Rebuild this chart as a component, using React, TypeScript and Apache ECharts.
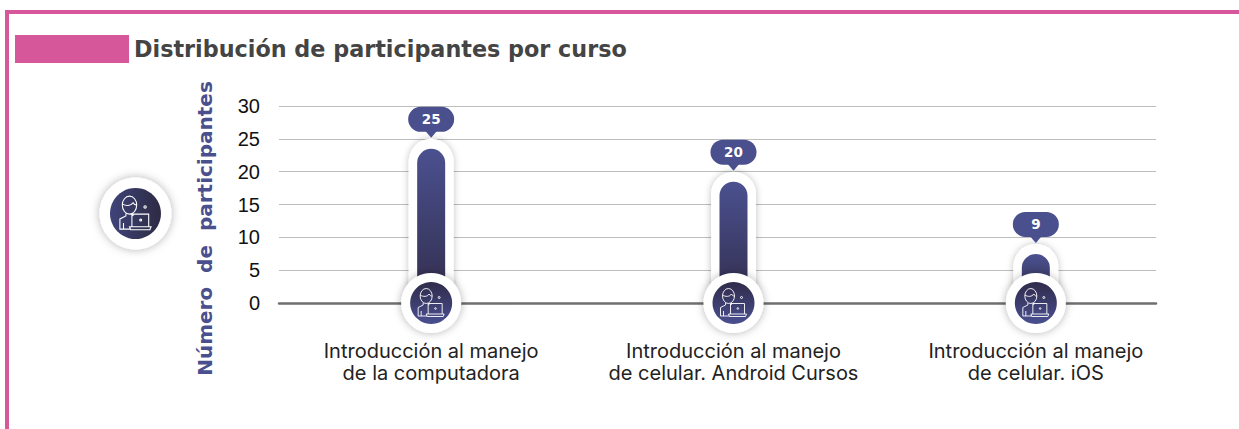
import React, { useEffect, useRef } from "react";
import * as echarts from "echarts";

const categories = [
  "Introducción al manejo\nde la computadora",
  "Introducción al manejo\nde celular. Android Cursos",
  "Introducción al manejo\nde celular. iOS",
];
const participants = [25, 20, 9];
const yTicks = { min: 0, max: 30, interval: 5 };
const titleText = "Distribución de participantes por curso";
const yAxisTitle = "Número  de  participantes";

const PINK = "#d6589b";
const INDIGO = "#4a4f8e";
const FONT = "Inter, 'Noto Sans', sans-serif";
const HEAVY = "'DejaVu Sans', sans-serif";

const ICON =
  "M-11,-7 a6,7.5 0 1,1 12,0 a6,7.5 0 1,1 -12,0 Z " +
  "M-11,-8 C-8,-6 -4,-6 -2,-9 C-1,-7 0,-7 1,-7 " +
  "M-8,0 L-8,2 L-13,4.5 L-13,13 L-4,13 " +
  "M-2,0 L-2,1.5 L-3,2 " +
  "M-10,13 L-10,8 " +
  "M-3,11 L-3,0.5 L11,0.5 L11,11 " +
  "M-5,11 L13,11 L12,13.5 L-4,13.5 Z " +
  "M3.5,5.5 a0.8,0.8 0 1,1 1.6,0 a0.8,0.8 0 1,1 -1.6,0 Z " +
  "M7,-5.5 a1,1 0 1,1 2,0 a1,1 0 1,1 -2,0 Z";

echarts.graphic.registerShape("personIcon", echarts.graphic.extendPath(ICON, {}));

const barGradient = () =>
  new echarts.graphic.LinearGradient(0, 0, 0, 1, [
    { offset: 0, color: "#4b5190" },
    { offset: 1, color: "#322d4c" },
  ]);
const badgeGradient = () =>
  new echarts.graphic.LinearGradient(0, 0, 0, 1, [
    { offset: 0, color: "#2f2b4a" },
    { offset: 1, color: "#4a4f90" },
  ]);

function renderCourse(_params: any, api: any) {
  const [cx, top] = api.coord([api.value(0), api.value(1)]);
  const [, base] = api.coord([api.value(0), 0]);
  const haloW = 45;
  const barW = 28;
  return {
    type: "group",
    children: [
      {
        type: "rect",
        shape: { x: cx - haloW / 2, y: top, width: haloW, height: base - top, r: [22.5, 22.5, 0, 0] },
        style: { fill: "#fff", shadowBlur: 7, shadowColor: "rgba(0,0,0,0.25)" },
      },
      {
        type: "rect",
        shape: { x: cx - barW / 2, y: top + 10, width: barW, height: base - top - 10, r: [14, 14, 0, 0] },
        style: { fill: barGradient() },
      },
      {
        type: "rect",
        shape: { x: cx - 23, y: top - 32, width: 46, height: 25, r: 12.5 },
        style: { fill: INDIGO },
      },
      {
        type: "polygon",
        shape: { points: [[cx - 6, top - 8], [cx + 6, top - 8], [cx, top - 1]] },
        style: { fill: INDIGO },
      },
      {
        type: "text",
        x: cx,
        y: top - 19.5,
        style: {
          text: String(api.value(1)),
          fill: "#fff",
          font: `700 13.5px ${HEAVY}`,
          align: "center",
          verticalAlign: "middle",
        },
      },
      {
        type: "circle",
        shape: { cx, cy: base, r: 30 },
        style: { fill: "#fff", shadowBlur: 8, shadowColor: "rgba(0,0,0,0.3)" },
      },
      { type: "circle", shape: { cx, cy: base, r: 21 }, style: { fill: badgeGradient() } },
      {
        type: "personIcon",
        x: cx,
        y: base,
        style: { fill: "none", stroke: "#fff", lineWidth: 0.9 },
      },
    ],
  };
}

export default function App() {
  const ref = useRef<HTMLDivElement>(null);
  useEffect(() => {
    document.body.style.margin = "0";
    const chart = echarts.init(ref.current!, undefined, { renderer: "svg" });
    const grids = { top: 106, height: 197 };
    chart.setOption({
      animation: false,
      backgroundColor: "#fff",
      textStyle: { fontFamily: FONT },
      grid: [
        { ...grids, left: 279, width: 877 },
        { ...grids, left: 280, width: 907 },
      ],
      xAxis: [
        {
          type: "category",
          gridIndex: 0,
          data: categories,
          axisLine: { show: true, lineStyle: { color: "#6f6f6f", width: 2.5 } },
          axisTick: { show: false },
          axisLabel: { show: false },
          splitLine: { show: false },
        },
        {
          type: "category",
          gridIndex: 1,
          data: categories,
          axisLine: { show: false },
          axisTick: { show: false },
          axisLabel: {
            color: "#222",
            fontSize: 20,
            lineHeight: 22,
            margin: 37,
            interval: 0,
            fontFamily: FONT,
          },
        },
      ],
      yAxis: [
        {
          type: "value",
          gridIndex: 0,
          ...yTicks,
          axisLine: { show: false },
          axisTick: { show: false },
          axisLabel: { color: "#111", fontSize: 20, margin: 19, fontFamily: "'Liberation Sans', sans-serif" },
          splitLine: { lineStyle: { color: "#bdbdbd", width: 1 } },
        },
        { type: "value", gridIndex: 1, ...yTicks, show: false },
      ],
      series: [
        {
          type: "custom",
          xAxisIndex: 1,
          yAxisIndex: 1,
          data: participants.map((v, i) => [i, v]),
          encode: { x: 0, y: 1 },
          renderItem: renderCourse,
          z: 5,
        },
      ],
      graphic: [
        { type: "rect", shape: { x: 5, y: 10, width: 1234, height: 4 }, style: { fill: PINK } },
        { type: "rect", shape: { x: 5, y: 10, width: 4, height: 419 }, style: { fill: PINK } },
        { type: "rect", shape: { x: 15, y: 35, width: 114, height: 28 }, style: { fill: PINK } },
        {
          type: "text",
          x: 134,
          y: 49,
          style: {
            text: titleText,
            fill: "#444",
            font: `700 22.3px ${HEAVY}`,
            align: "left",
            verticalAlign: "middle",
          },
        },
        {
          type: "text",
          x: 205,
          y: 228.5,
          rotation: Math.PI / 2,
          style: {
            text: yAxisTitle,
            fill: INDIGO,
            font: `700 20px ${HEAVY}`,
            align: "center",
            verticalAlign: "middle",
          },
        },
        {
          type: "circle",
          shape: { cx: 135.5, cy: 213.5, r: 36 },
          style: { fill: "#fff", shadowBlur: 10, shadowColor: "rgba(0,0,0,0.3)" },
        },
        {
          type: "circle",
          shape: { cx: 135.5, cy: 213.5, r: 25.5 },
          style: {
            fill: new echarts.graphic.LinearGradient(0, 0, 1, 0, [
              { offset: 0, color: "#3f4479" },
              { offset: 1, color: "#2d2a44" },
            ]),
          },
        },
        {
          type: "personIcon",
          x: 135.5,
          y: 213.5,
          scaleX: 1.2,
          scaleY: 1.2,
          style: { fill: "none", stroke: "#fff", lineWidth: 0.9 },
        },
      ],
    });
    return () => chart.dispose();
  }, []);
  return <div ref={ref} style={{ position: "fixed", left: 0, top: 0, width: 1239, height: 429 }} />;
}
